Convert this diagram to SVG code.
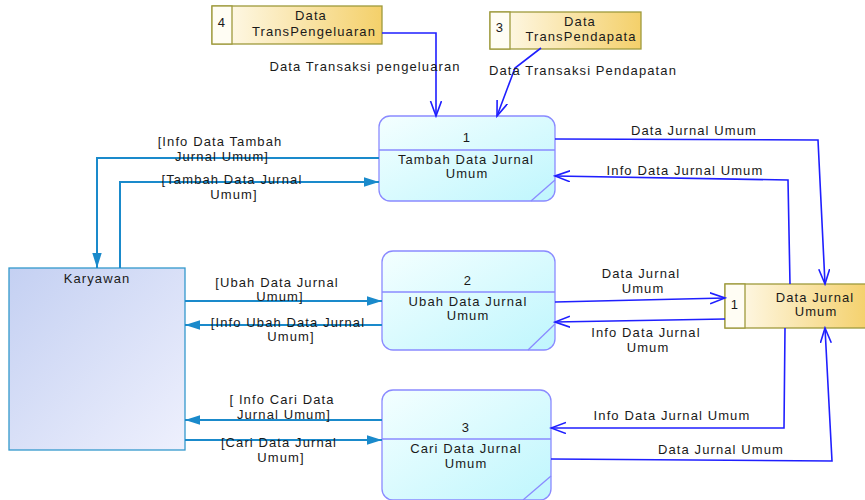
<svg xmlns="http://www.w3.org/2000/svg" width="865" height="500" viewBox="0 0 865 500">
  <style>
    text { font-family: "Liberation Sans", Arial, sans-serif; font-size: 13px; fill: #1a1a1a; letter-spacing: 1.1px; text-anchor: middle; }
    .proc { fill: url(#gProc); stroke: #8a8aff; stroke-width: 1.3; }
    .procLine { stroke: #8a8aff; stroke-width: 1.3; fill: none; }
    .store { fill: url(#gStore); stroke: #9e9a3c; stroke-width: 1.3; }
    .storeNum { fill: #fffdf4; stroke: #9e9a3c; stroke-width: 1.3; }
    .ent { fill: url(#gEnt); stroke: #3399cc; stroke-width: 1.3; }
    .flow { fill: none; stroke: #1f1fff; stroke-width: 1.6; marker-end: url(#openArrow); }
    .ext { fill: none; stroke: #1a8acb; stroke-width: 2; marker-end: url(#solidArrow); }
  </style>
  <defs>
    <linearGradient id="gProc" x1="0" y1="0" x2="1" y2="1">
      <stop offset="0" stop-color="#f4ffff"/>
      <stop offset="1" stop-color="#bff6fd"/>
    </linearGradient>
    <linearGradient id="gStore" x1="0" y1="0" x2="1" y2="0">
      <stop offset="0" stop-color="#fffcf2"/>
      <stop offset="1" stop-color="#f4d06a"/>
    </linearGradient>
    <linearGradient id="gEnt" x1="0" y1="0" x2="1" y2="1">
      <stop offset="0" stop-color="#c4d0f2"/>
      <stop offset="1" stop-color="#eef0fd"/>
    </linearGradient>
    <marker id="openArrow" markerUnits="userSpaceOnUse" markerWidth="17" markerHeight="14" refX="15" refY="6" orient="auto">
      <path d="M0,0.5 L15,6 L0,11.5" fill="none" stroke="#1f1fff" stroke-width="1.6"/>
    </marker>
    <marker id="solidArrow" markerUnits="userSpaceOnUse" markerWidth="16" markerHeight="10" refX="15" refY="5" orient="auto">
      <path d="M0,0.3 L15,5 L0,9.7 Z" fill="#1a8acb"/>
    </marker>
  </defs>

  <!-- external entity -->
  <g id="karyawan">
    <rect class="ent" x="9" y="268" width="176" height="182"/>
    <text x="97" y="283">Karyawan</text>
  </g>

  <!-- processes -->
  <g id="proc1">
    <rect class="proc" x="379" y="116" width="176" height="85" rx="11" ry="11"/>
    <line class="procLine" x1="379" y1="150" x2="555" y2="150"/>
    <line class="procLine" x1="531" y1="201" x2="555" y2="180"/>
    <text x="467" y="142">1</text>
    <text x="466" y="164">Tambah Data Jurnal</text>
    <text x="467" y="178">Umum</text>
  </g>
  <g id="proc2">
    <rect class="proc" x="382" y="251" width="173" height="99" rx="11" ry="11"/>
    <line class="procLine" x1="382" y1="292" x2="555" y2="292"/>
    <line class="procLine" x1="528" y1="350" x2="555" y2="324"/>
    <text x="468" y="285">2</text>
    <text x="468" y="306">Ubah Data Jurnal</text>
    <text x="468" y="320">Umum</text>
  </g>
  <g id="proc3">
    <rect class="proc" x="382" y="390" width="169" height="110" rx="11" ry="11"/>
    <line class="procLine" x1="382" y1="439" x2="551" y2="439"/>
    <line class="procLine" x1="523" y1="500" x2="551" y2="476"/>
    <text x="466" y="432">3</text>
    <text x="466" y="453">Cari Data Jurnal</text>
    <text x="466" y="468">Umum</text>
  </g>

  <!-- data stores -->
  <g id="store4">
    <rect class="store" x="212" y="6" width="170" height="38"/>
    <rect class="storeNum" x="212" y="6" width="20" height="38"/>
    <text x="222" y="27">4</text>
    <text x="311" y="20">Data</text>
    <text x="314" y="36">TransPengeluaran</text>
  </g>
  <g id="store3">
    <rect class="store" x="490" y="12" width="151" height="37"/>
    <rect class="storeNum" x="490" y="12" width="20" height="37"/>
    <text x="500" y="32">3</text>
    <text x="580" y="26">Data</text>
    <text x="581" y="41">TransPendapata</text>
  </g>
  <g id="store1">
    <rect class="store" x="725" y="284" width="145" height="44"/>
    <rect class="storeNum" x="725" y="284" width="20" height="44"/>
    <text x="735" y="309">1</text>
    <text x="815" y="302">Data Jurnal</text>
    <text x="816" y="316">Umum</text>
  </g>

  <!-- connectors -->
  <g id="connectors">
    <polyline class="flow" points="382,33 436,33 436,116"/>
    <polyline class="flow" points="541,48 515,68 497,116"/>
    <polyline class="flow" points="555,139 818,140 825,284"/>
    <polyline class="flow" points="790,284 788,180 555,176"/>
    <polyline class="flow" points="555,302 725,298"/>
    <polyline class="flow" points="725,319 555,322"/>
    <polyline class="flow" points="785,328 784,428 551,428"/>
    <polyline class="flow" points="551,459 832,461 825,328"/>

    <polyline class="ext" points="379,158 97,158 97,268"/>
    <polyline class="ext" points="120,268 120,182 379,182"/>
    <polyline class="ext" points="185,301 382,301"/>
    <polyline class="ext" points="382,325 185,325"/>
    <polyline class="ext" points="382,420 185,420"/>
    <polyline class="ext" points="185,440 382,440"/>

    <!-- flow labels -->
    <text x="365" y="71">Data Transaksi pengeluaran</text>
    <text x="583" y="75">Data Transaksi Pendapatan</text>
    <text x="694" y="135">Data Jurnal Umum</text>
    <text x="685" y="175">Info Data Jurnal Umum</text>
    <text x="641" y="278">Data Jurnal</text>
    <text x="643" y="293">Umum</text>
    <text x="646" y="337">Info Data Jurnal</text>
    <text x="648" y="352">Umum</text>
    <text x="672" y="420">Info Data Jurnal Umum</text>
    <text x="721" y="454">Data Jurnal Umum</text>

    <text x="220" y="146">[Info Data Tambah</text>
    <text x="222" y="161">Jurnal Umum]</text>
    <text x="232" y="184">[Tambah Data Jurnal</text>
    <text x="234" y="199">Umum]</text>
    <text x="277" y="287">[Ubah Data Jurnal</text>
    <text x="280" y="301">Umum]</text>
    <text x="288" y="327">[Info Ubah Data Jurnal</text>
    <text x="291" y="341">Umum]</text>
    <text x="282" y="404">[ Info Cari Data</text>
    <text x="284" y="419">Jurnal Umum]</text>
    <text x="279" y="447">[Cari Data Jurnal</text>
    <text x="281" y="462">Umum]</text>
  </g>
</svg>
